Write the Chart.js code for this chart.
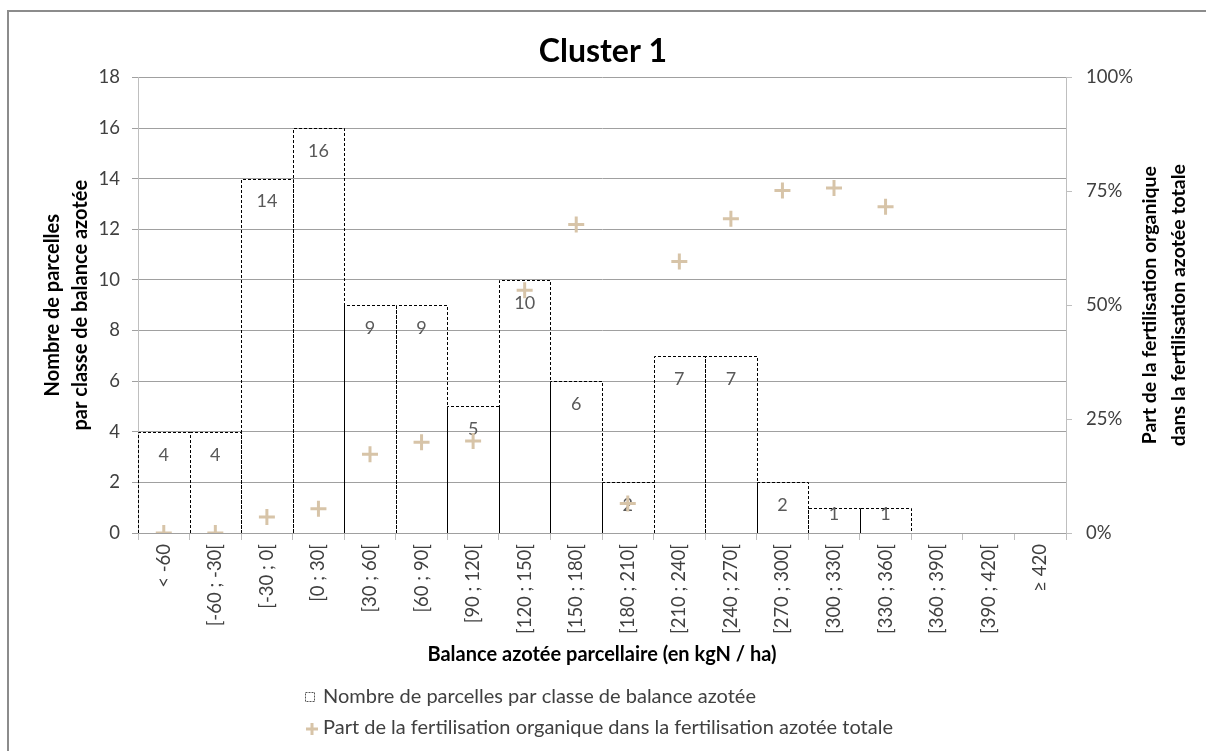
<!DOCTYPE html>
<html>
<head>
<meta charset="utf-8">
<script src="https://cdn.jsdelivr.net/npm/chart.js@4"></script>
<style>
  html, body { margin: 0; padding: 0; background: #fff; overflow: hidden; }
  #wrap { position: relative; width: 1206px; height: 751px; overflow: hidden; }
  #frame { position: absolute; left: 7px; top: 10px; width: 1300px; height: 900px; border: 2px solid #8c8c8c; }
  canvas { position: absolute; left: 0; top: 0; }
</style>
</head>
<body>
<div id="wrap">
  <div id="frame"></div>
  <canvas id="myChart" width="1206" height="751"></canvas>
</div>
<script>
let classes = ["< -60", "[-60 ; -30[", "[-30 ; 0[", "[0 ; 30[", "[30 ; 60[", "[60 ; 90[",
  "[90 ; 120[", "[120 ; 150[", "[150 ; 180[", "[180 ; 210[", "[210 ; 240[", "[240 ; 270[",
  "[270 ; 300[", "[300 ; 330[", "[330 ; 360[", "[360 ; 390[", "[390 ; 420[", "\u2265 420"];
let nbParcelles = [4, 4, 14, 16, 9, 9, 5, 10, 6, 2, 7, 7, 2, 1, 1, 0, 0, 0];
// part de la fertilisation organique (%)
let partOrganique = [0, 0, 3.5, 5.3, 17.3, 19.9, 20.2, 53.3, 67.7, 6.5, 59.6, 69.0, 75.2, 75.7, 71.6, null, null, null];

let leftTitle = ["Nombre de parcelles", "par classe de balance azot\u00e9e"];
let rightTitle = ["Part de la fertilisation organique", "dans la fertilisation azot\u00e9e totale"];

let fontFam = 'Lato, "Open Sans", sans-serif';
Chart.defaults.font.family = fontFam;
Chart.defaults.color = "#404040";

let crossColor = "#d7c4a8";

// dashed bar outlines + value labels, right title, legend
let barOutline = {
  id: "barOutline",
  afterDatasetDraw(chart, args) {
    if (args.index !== 0) return;
    let ctx = chart.ctx;
    let meta = chart.getDatasetMeta(0);
    ctx.save();
    meta.data.forEach((bar, i) => {
      let v = nbParcelles[i];
      if (!v) return;
      let p = bar.getProps(["x", "y", "base", "width"], true);
      let l = Math.round(p.x - p.width / 2) + 0.5;
      let r = Math.round(p.x + p.width / 2) + 0.5;
      let t = Math.round(p.y) + 0.5;
      let b = Math.round(p.base);
      ctx.setLineDash([3, 2]);
      ctx.strokeStyle = "#000";
      ctx.lineWidth = 1;
      ctx.beginPath();
      ctx.moveTo(l, b);
      ctx.lineTo(l, t);
      ctx.lineTo(r, t);
      ctx.lineTo(r, b);
      ctx.stroke();
      ctx.setLineDash([]);
      let h = p.base - p.y;
      ctx.fillStyle = "#595959";
      ctx.font = "18px " + fontFam;
      ctx.textAlign = "center";
      ctx.textBaseline = "middle";
      ctx.fillText(String(v), p.x, h > 40 ? p.y + 23 : p.y + 6);
    });
    ctx.restore();
  },
  afterDraw(chart) {
    let ctx = chart.ctx;
    let s = chart.scales.y1;
    ctx.save();
    // right axis title, read bottom to top
    ctx.fillStyle = "#000";
    ctx.font = "bold 19.5px " + fontFam;
    ctx.textAlign = "center";
    ctx.textBaseline = "middle";
    let cy = (s.top + s.bottom) / 2;
    [s.right - 56, s.right - 27].forEach((x, k) => {
      ctx.save();
      ctx.translate(x, cy);
      ctx.rotate(-Math.PI / 2);
      ctx.fillText(rightTitle[k], 0, 0);
      ctx.restore();
    });
    // legend
    ctx.font = "20px " + fontFam;
    ctx.textAlign = "left";
    ctx.fillStyle = "#404040";
    let ds = chart.data.datasets;
    ctx.strokeStyle = "#555";
    ctx.lineWidth = 1;
    ctx.setLineDash([2, 1]);
    ctx.strokeRect(305.5, 692.5, 9, 9);
    ctx.setLineDash([]);
    ctx.fillText(ds[0].label, 323, 697);
    ctx.strokeStyle = crossColor;
    ctx.lineWidth = 3;
    ctx.beginPath();
    ctx.moveTo(306, 729); ctx.lineTo(318, 729);
    ctx.moveTo(312, 723); ctx.lineTo(312, 735);
    ctx.stroke();
    ctx.fillText(ds[1].label, 323, 728);
    ctx.restore();
  }
};

let chart = new Chart(document.getElementById("myChart").getContext("2d"), {
  type: "bar",
  data: {
    labels: classes,
    datasets: [
      {
        type: "bar",
        label: "Nombre de parcelles par classe de balance azot\u00e9e",
        data: nbParcelles,
        backgroundColor: "rgba(0,0,0,0)",
        borderWidth: 0,
        barPercentage: 1,
        categoryPercentage: 1,
        yAxisID: "y",
        order: 2
      },
      {
        type: "line",
        label: "Part de la fertilisation organique dans la fertilisation azot\u00e9e totale",
        data: partOrganique,
        showLine: false,
        pointStyle: "cross",
        pointRadius: 8,
        pointBorderWidth: 3,
        borderColor: crossColor,
        backgroundColor: crossColor,
        yAxisID: "y1",
        order: 1
      }
    ]
  },
  options: {
    responsive: false,
    animation: false,
    devicePixelRatio: 1,
    layout: { padding: { left: 0, right: 0, top: 0, bottom: 78 } },
    plugins: {
      legend: { display: false },
      tooltip: { enabled: false },
      title: {
        display: true,
        text: "Cluster 1",
        color: "#000",
        font: { size: 32, weight: "bold" },
        padding: { top: 32, bottom: 7 }
      }
    },
    scales: {
      x: {
        offset: true,
        grid: { offset: true, drawOnChartArea: false, tickLength: 7, color: "#bfbfbf" },
        border: { color: "#a0a0a0" },
        ticks: { autoSkip: false, minRotation: 90, maxRotation: 90, padding: 4, font: { size: 18.5 } },
        title: {
          display: true,
          text: "Balance azot\u00e9e parcellaire (en kgN / ha)",
          color: "#000",
          font: { size: 20, weight: "bold" },
          padding: { top: 4, bottom: 6 }
        },
        afterFit(s) { s.height = 140; }
      },
      y: {
        position: "left",
        min: 0,
        max: 18,
        ticks: { stepSize: 2, padding: 12, font: { size: 18.5 } },
        grid: { color: "#a0a0a0", tickLength: 6 },
        border: { color: "#bfbfbf" },
        title: {
          display: true,
          text: leftTitle,
          color: "#000",
          font: { size: 20, weight: "bold", lineHeight: 1.4 },
          padding: { top: 39, bottom: 0 }
        },
        afterFit(s) { s.width = 138; }
      },
      y1: {
        position: "right",
        min: 0,
        max: 100,
        ticks: { stepSize: 25, padding: 14, font: { size: 18.5 }, callback: v => v + "%" },
        grid: { drawOnChartArea: false, color: "#bfbfbf", tickLength: 6 },
        border: { color: "#bfbfbf" },
        afterFit(s) { s.width = 140; }
      }
    }
  },
  plugins: [barOutline]
});
</script>
</body>
</html>
